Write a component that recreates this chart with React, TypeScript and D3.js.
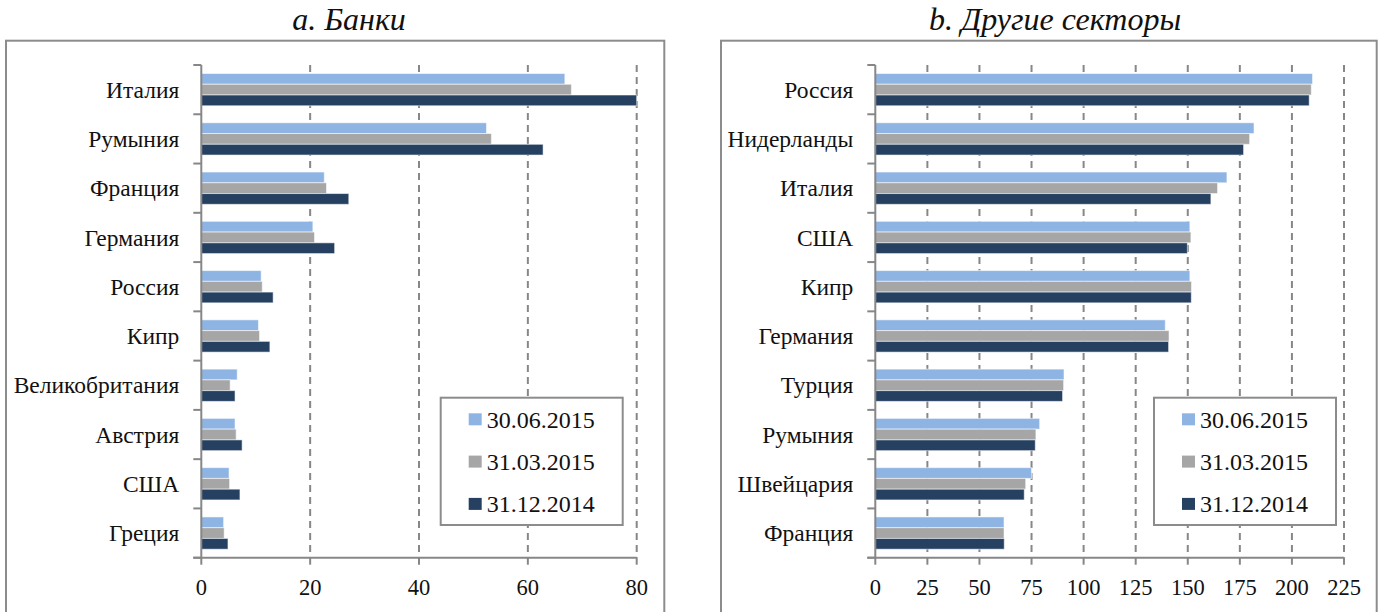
import * as d3 from 'd3';

// Series (legend order, drawn top -> bottom within each group)
const seriesNames = ['30.06.2015', '31.03.2015', '31.12.2014'];
const seriesColors = ['#8EB4E3', '#A6A6A6', '#254061'];

// a. Банки
const banksCategories = ['Италия', 'Румыния', 'Франция', 'Германия', 'Россия', 'Кипр', 'Великобритания', 'Австрия', 'США', 'Греция'];
const banksJun2015 = [66.8, 52.4, 22.6, 20.5, 11.0, 10.5, 6.6, 6.2, 5.1, 4.1];
const banksMar2015 = [68.0, 53.3, 23.0, 20.8, 11.2, 10.7, 5.3, 6.4, 5.2, 4.2];
const banksDec2014 = [80.0, 62.8, 27.1, 24.5, 13.2, 12.6, 6.2, 7.5, 7.1, 4.9];
const banksTicks = [0, 20, 40, 60, 80];

// b. Другие секторы
const otherCategories = ['Россия', 'Нидерланды', 'Италия', 'США', 'Кипр', 'Германия', 'Турция', 'Румыния', 'Швейцария', 'Франция'];
const otherJun2015 = [209.9, 181.8, 168.8, 151.0, 151.0, 139.2, 90.6, 78.9, 75.0, 61.8];
const otherMar2015 = [209.3, 179.7, 164.3, 151.5, 151.8, 141.0, 90.4, 77.1, 72.2, 61.8];
const otherDec2014 = [208.3, 176.8, 161.1, 149.8, 151.7, 140.8, 89.9, 76.8, 71.5, 61.9];
const otherTicks = [0, 25, 50, 75, 100, 125, 150, 175, 200, 225];

const FONT = 'Liberation Serif';
const AXIS_COLOR = '#878787';
const TEXT_COLOR = '#111';

const plotTop = 65;
const plotBottom = 557.7;

interface PanelProps {
  title: string;
  titleX: number;
  categories: string[];
  series: number[][];
  ticks: number[];
  frame: [number, number];
  plotX: [number, number];
  legendX: number;
}

function Panel({ title, titleX, categories, series, ticks, frame, plotX, legendX }: PanelProps) {
  const x = d3.scaleLinear()
    .domain([ticks[0], ticks[ticks.length - 1]])
    .range(plotX);

  const y = d3.scaleBand<string>()
    .domain(categories)
    .range([plotTop, plotBottom]);

  const bw = y.bandwidth();
  const groupW = bw * 0.655;
  const sub = d3.scaleBand<string>()
    .domain(seriesNames)
    .range([(bw - groupW) / 2, (bw + groupW) / 2]);

  const bounds = categories.map((c) => y(c) ?? 0).concat([plotBottom]);
  const x0 = x(0);

  return (
    <g>
      {/* outer frame, runs past the bottom edge */}
      <rect x={frame[0]} y={40.7} width={frame[1] - frame[0]} height={620}
        fill="white" stroke="#8c8c8c" strokeWidth={2} />

      <text x={titleX} y={29.5} textAnchor="middle"
        fontFamily={FONT} fontStyle="italic" fontSize={32} fill={TEXT_COLOR}>
        {title}
      </text>

      {/* dashed gridlines */}
      {ticks.slice(1).map((t) => (
        <line key={'g' + t} x1={x(t)} x2={x(t)} y1={plotTop} y2={plotBottom}
          stroke={AXIS_COLOR} strokeWidth={2} strokeDasharray="7,5" />
      ))}

      {/* bars */}
      {series.map((vals, si) =>
        vals.map((v, i) => (
          <rect key={si + '-' + i}
            x={x0}
            y={(y(categories[i]) ?? 0) + (sub(seriesNames[si]) ?? 0)}
            width={x(v) - x0}
            height={sub.bandwidth()}
            fill={seriesColors[si]}
            stroke="rgba(255,255,255,0.55)" strokeWidth={1} />
        ))
      )}

      {/* category axis */}
      <line x1={x0} x2={x0} y1={plotTop} y2={plotBottom} stroke={AXIS_COLOR} strokeWidth={2} />
      {bounds.map((b, i) => (
        <line key={'yt' + i} x1={x0 - 8} x2={x0} y1={b} y2={b} stroke={AXIS_COLOR} strokeWidth={2} />
      ))}
      {categories.map((c) => (
        <text key={'yl' + c} x={x0 - 22} y={(y(c) ?? 0) + bw / 2} dy="0.35em" textAnchor="end"
          fontFamily={FONT} fontSize={23.5} fill={TEXT_COLOR}>
          {c}
        </text>
      ))}

      {/* value axis */}
      <line x1={x0 - 8} x2={plotX[1]} y1={plotBottom} y2={plotBottom} stroke={AXIS_COLOR} strokeWidth={2} />
      {ticks.map((t) => (
        <g key={'xt' + t}>
          <line x1={x(t)} x2={x(t)} y1={plotBottom} y2={plotBottom + 7} stroke={AXIS_COLOR} strokeWidth={2} />
          <text x={x(t)} y={595} textAnchor="middle" fontFamily={FONT} fontSize={22.5} fill={TEXT_COLOR}>
            {t}
          </text>
        </g>
      ))}

      {/* legend */}
      <g transform={`translate(${legendX}, 397.7)`}>
        <rect width={182} height={127.3} fill="white" stroke="#8c8c8c" strokeWidth={2} />
        {seriesNames.map((name, i) => {
          const cy = 21.6 + i * 42.3;
          return (
            <g key={name}>
              <rect x={28} y={cy - 6} width={13} height={12} fill={seriesColors[i]} />
              <text x={46} y={cy} dy="0.35em" fontFamily={FONT} fontSize={24} fill={TEXT_COLOR}>
                {name}
              </text>
            </g>
          );
        })}
      </g>
    </g>
  );
}

export default function App() {
  return (
    <div style={{ position: 'absolute', left: 0, top: 0 }}>
      <svg width={1380} height={612} style={{ display: 'block', background: 'white' }}>
        <Panel
          title="a. Банки"
          titleX={349}
          categories={banksCategories}
          series={[banksJun2015, banksMar2015, banksDec2014]}
          ticks={banksTicks}
          frame={[6, 664.3]}
          plotX={[201.3, 636.7]}
          legendX={440.7}
        />
        <Panel
          title="b. Другие секторы"
          titleX={1055}
          categories={otherCategories}
          series={[otherJun2015, otherMar2015, otherDec2014]}
          ticks={otherTicks}
          frame={[721, 1376.7]}
          plotX={[875.3, 1344]}
          legendX={1154}
        />
      </svg>
    </div>
  );
}
